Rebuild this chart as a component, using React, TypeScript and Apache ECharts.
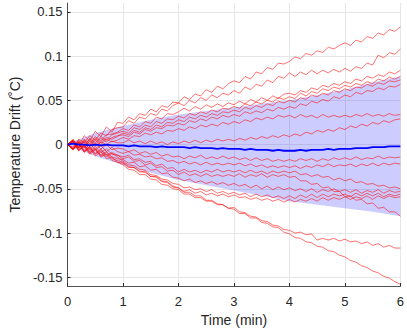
import React, { useEffect, useRef } from "react";
import * as echarts from "echarts";

// sample times (min), one reading every 0.1 min
const times = [
  0, 0.1, 0.2, 0.3, 0.4, 0.5, 0.6, 0.7, 0.8, 0.9,
  1, 1.1, 1.2, 1.3, 1.4, 1.5, 1.6, 1.7, 1.8, 1.9,
  2, 2.1, 2.2, 2.3, 2.4, 2.5, 2.6, 2.7, 2.8, 2.9,
  3, 3.1, 3.2, 3.3, 3.4, 3.5, 3.6, 3.7, 3.8, 3.9,
  4, 4.1, 4.2, 4.3, 4.4, 4.5, 4.6, 4.7, 4.8, 4.9,
  5, 5.1, 5.2, 5.3, 5.4, 5.5, 5.6, 5.7, 5.8, 5.9, 6,
];

// individual drift traces, in milli-degrees C
const runU1 = [0,6,-2,10,4,15,9,20,14,25, 24,31,28,35,33,40,37,44,42,48, 47,54,51,57,55,62,59,66,63,69, 72,70,77,74,82,80,87,85,92,91, 94,99,97,103,101,106,104,110,108,112, 115,112,118,116,122,120,126,124,130,128,133];
const runU2 = [0,-4,6,2,10,5,13,10,17,19, 20,27,24,31,29,35,33,40,38,44, 47,44,50,47,53,50,56,53,58,56, 61,58,65,62,68,66,73,70,77,75, 81,77,82,79,84,80,84,81,85,82, 86,83,88,86,92,90,101,98,104,102,108];
const runU3 = [0,5,-3,6,1,9,4,11,12,14, 18,16,22,20,26,24,31,29,35,34, 37,41,38,43,40,45,42,46,43,47, 45,49,46,51,48,53,50,55,52,57, 58,56,61,59,64,62,67,65,69,67, 71,69,74,72,77,75,79,77,82,80,84];
const runU4 = [0,-5,4,-2,7,2,9,5,11,13, 15,13,19,17,22,20,26,24,29,28, 32,30,35,33,37,35,39,37,41,40, 43,41,46,44,48,46,50,48,53,51, 54,52,58,55,60,58,63,61,65,63, 67,65,69,67,71,69,74,72,76,74,77];
const runU5 = [0,4,-4,5,-1,7,2,8,6,9, 13,11,16,14,19,17,22,20,25,24, 28,26,31,29,33,31,35,33,37,36, 39,37,42,40,44,42,46,44,49,47, 50,48,53,51,56,54,58,56,61,59, 63,61,65,64,68,66,70,68,72,71,73];
const runU6 = [0,-3,5,-2,6,0,7,3,8,10, 11,9,14,12,17,15,19,18,22,21, 24,22,27,25,29,27,31,29,33,31, 34,32,37,35,38,36,40,38,42,40, 43,41,46,44,49,47,51,49,54,52, 56,54,59,57,61,60,64,62,66,65,68];
const runU7 = [0,5,-4,4,-2,5,0,6,3,5, 8,6,10,9,13,11,14,12,16,15, 18,16,20,18,22,20,23,21,25,23, 26,24,28,26,30,28,31,29,33,31, 33,30,34,31,33,30,34,31,33,31, 33,31,34,32,35,32,34,32,35,33,34];
const runU8 = [0,-5,3,-4,4,-1,3,0,4,2, 2,5,2,4,1,4,1,3,0,3, 1,4,2,5,2,5,3,6,4,6, 4,7,5,8,6,9,7,10,8,11, 9,12,10,14,12,16,14,17,15,19, 17,21,19,23,21,25,23,27,25,28,29];
const runD1 = [0,5,-4,3,-6,1,-5,0,-6,-4, -5,-8,-6,-10,-8,-11,-9,-13,-11,-14, -13,-16,-13,-15,-12,-16,-14,-16,-13,-16, -14,-17,-15,-18,-15,-18,-16,-19,-17,-19, -17,-19,-16,-18,-16,-19,-16,-18,-15,-17, -15,-17,-14,-17,-15,-16,-13,-16,-14,-15,-14];
const runD2 = [0,-6,3,-7,1,-6,-1,-8,-3,-8, -10,-8,-12,-11,-14,-13,-16,-15,-19,-18, -21,-19,-22,-20,-23,-20,-23,-21,-23,-21, -23,-21,-24,-22,-25,-23,-26,-24,-26,-24, -26,-24,-27,-24,-26,-23,-25,-22,-25,-23, -24,-22,-25,-22,-24,-21,-24,-21,-23,-21,-22];
const runD3 = [0,4,-6,0,-8,-2,-9,-5,-11,-12, -14,-12,-17,-16,-20,-19,-24,-22,-27,-26, -31,-28,-31,-29,-32,-29,-31,-28,-31,-29, -31,-29,-32,-29,-32,-30,-33,-30,-32,-30, -32,-30,-34,-33,-36,-34,-37,-36,-40,-38, -41,-39,-43,-42,-45,-44,-47,-46,-49,-48,-50];
const runD4 = [0,-6,2,-8,-2,-10,-5,-12,-9,-12, -16,-14,-19,-18,-23,-21,-26,-25,-30,-29, -34,-31,-35,-33,-36,-33,-36,-34,-36,-34, -36,-33,-37,-34,-36,-33,-37,-34,-36,-34, -37,-36,-41,-41,-45,-44,-49,-48,-53,-53, -59,-58,-63,-62,-67,-66,-72,-71,-76,-76,-81];
const runD5 = [0,3,-7,-1,-10,-4,-12,-8,-14,-16, -17,-21,-20,-25,-24,-29,-28,-33,-32,-37, -38,-41,-39,-43,-41,-44,-42,-45,-43,-46, -44,-47,-45,-49,-46,-50,-47,-51,-48,-51, -49,-52,-50,-53,-50,-54,-51,-53,-50,-53, -51,-54,-51,-55,-52,-54,-51,-55,-52,-54,-53];
const runD6 = [0,-5,2,-8,-3,-11,-6,-14,-10,-14, -19,-23,-24,-28,-29,-34,-35,-39,-40,-44, -45,-49,-48,-51,-50,-53,-51,-55,-53,-56, -54,-57,-55,-59,-56,-59,-57,-60,-58,-61, -58,-61,-57,-60,-56,-60,-56,-59,-56,-58, -56,-59,-55,-58,-55,-58,-55,-59,-56,-58,-56];
const runD7 = [0,4,-6,-1,-9,-5,-13,-9,-16,-18, -20,-25,-26,-30,-31,-36,-37,-42,-43,-48, -49,-53,-51,-55,-53,-57,-55,-58,-56,-59, -57,-60,-59,-62,-60,-63,-61,-64,-62,-65, -62,-65,-62,-64,-61,-64,-60,-63,-60,-62, -59,-62,-59,-61,-58,-62,-58,-61,-58,-60,-59];
const runD8 = [0,-6,1,-9,-4,-13,-8,-16,-14,-20, -23,-28,-29,-34,-34,-39,-40,-45,-46,-50, -51,-56,-56,-60,-60,-64,-64,-68,-68,-72, -71,-76,-77,-81,-82,-86,-87,-91,-92,-96, -97,-100,-99,-102,-101,-108,-106,-108,-106,-109, -107,-110,-109,-112,-110,-114,-112,-116,-114,-117,-117];
const runD9 = [0,3,-7,-2,-11,-6,-14,-11,-18,-20, -21,-26,-26,-31,-31,-36,-36,-41,-42,-47, -49,-54,-54,-58,-58,-63,-63,-67,-68,-72, -73,-78,-78,-83,-83,-88,-89,-93,-94,-99, -101,-105,-106,-110,-111,-115,-116,-120,-121,-125, -127,-131,-133,-137,-139,-143,-145,-149,-151,-155,-158];

// mean drift, milli-degrees C
const meanDrift = [0,1,0,0,-1,0,-1,0,-1,-1, -1,-2,-1,-2,-2,-2,-3,-2,-3,-3, -3,-3,-4,-3,-4,-4,-4,-5,-4,-5, -5,-5,-6,-5,-6,-6,-6,-7,-6,-7, -7,-7,-6,-7,-6,-6,-6,-5,-6,-5, -5,-5,-4,-4,-4,-3,-3,-3,-2,-2,-2];

// shaded +/- 1 sd band, milli-degrees C
const bandTimes = [0, 0.5, 1, 1.5, 2, 2.5, 3, 3.5, 4, 4.5, 5, 5.5, 6];
const bandUpper = [1, 13, 21, 28, 34, 38, 42, 46, 50, 56, 62, 70, 77];
const bandLower = [-1, -13, -23, -32, -40, -46, -52, -58, -64, -68, -72, -76, -81];

const yTicks = [-0.15, -0.1, -0.05, 0, 0.05, 0.1, 0.15];
const xTicks = [0, 1, 2, 3, 4, 5, 6];

const runs = [runU1, runU2, runU3, runU4, runU5, runU6, runU7, runU8, runD1, runD2, runD3, runD4, runD5, runD6, runD7, runD8, runD9];

const FONT = "Helvetica, Arial, 'Liberation Sans', sans-serif";
const INK = "#262626";

export default function App() {
  const ref = useRef<HTMLDivElement>(null);
  useEffect(() => {
    if (!ref.current) return;
    const chart = echarts.init(ref.current, undefined, { renderer: "svg" });
    const toPts = (vals: number[], ts: number[]) => vals.map((v, i) => [ts[i], v / 1000]);
    const redSeries = runs.map((r, k) => ({
      name: "run" + k,
      type: "line",
      data: toPts(r, times),
      symbol: "none",
      silent: true,
      lineStyle: { color: "#ff0000", width: 0.7, opacity: 0.8 },
    }));
    const bandData = bandTimes.map((t, i) => [t, bandUpper[i] / 1000, bandLower[i] / 1000]);
    chart.setOption({
      animation: false,
      grid: { left: 63, right: 5, top: 3, bottom: 42 },
      xAxis: {
        type: "value",
        min: 0,
        max: 6,
        interval: 1,
        name: "Time (min)",
        nameLocation: "middle",
        nameGap: 25,
        nameTextStyle: { fontFamily: FONT, fontSize: 14, color: INK },
        axisLine: { onZero: false, lineStyle: { color: INK, width: 0.8 } },
        axisTick: { inside: true, length: 3, lineStyle: { color: INK } },
        axisLabel: { fontFamily: FONT, fontSize: 13, color: INK, margin: 9, customValues: xTicks },
        splitLine: { show: true, lineStyle: { color: "#e6e6e6", width: 1 } },
      },
      yAxis: {
        type: "value",
        min: -0.16,
        max: 0.16,
        name: "Temperature Drift (˚C)",
        nameLocation: "middle",
        nameGap: 41,
        nameTextStyle: { fontFamily: FONT, fontSize: 14, color: INK },
        axisLine: { show: true, lineStyle: { color: INK, width: 0.8 } },
        axisTick: { show: true, inside: true, length: 3, lineStyle: { color: INK }, customValues: yTicks },
        axisLabel: { fontFamily: FONT, fontSize: 13, color: INK, margin: 5, customValues: yTicks },
        splitLine: { show: true, lineStyle: { color: "#e6e6e6", width: 1 } },
      },
      series: [
        ...redSeries,
        {
          name: "band",
          type: "custom",
          silent: true,
          data: bandData,
          encode: { x: 0, y: [1, 2] },
          renderItem: (params: any, api: any) => {
            if (params.dataIndex !== 0) return null;
            const top = bandData.map((d) => api.coord([d[0], d[1]]));
            const bottom = bandData.map((d) => api.coord([d[0], d[2]])).reverse();
            return {
              type: "polygon",
              shape: { points: top.concat(bottom) },
              style: { fill: "#0000ff", opacity: 0.2 },
            };
          },
        },
        {
          name: "mean",
          type: "line",
          data: toPts(meanDrift, times),
          symbol: "none",
          silent: true,
          lineStyle: { color: "#0000ff", width: 1.8 },
        },
      ],
    });
    return () => chart.dispose();
  }, []);
  return (
    <div
      ref={ref}
      style={{ position: "fixed", left: 0, top: 0, width: 407, height: 332, background: "#ffffff" }}
    />
  );
}
